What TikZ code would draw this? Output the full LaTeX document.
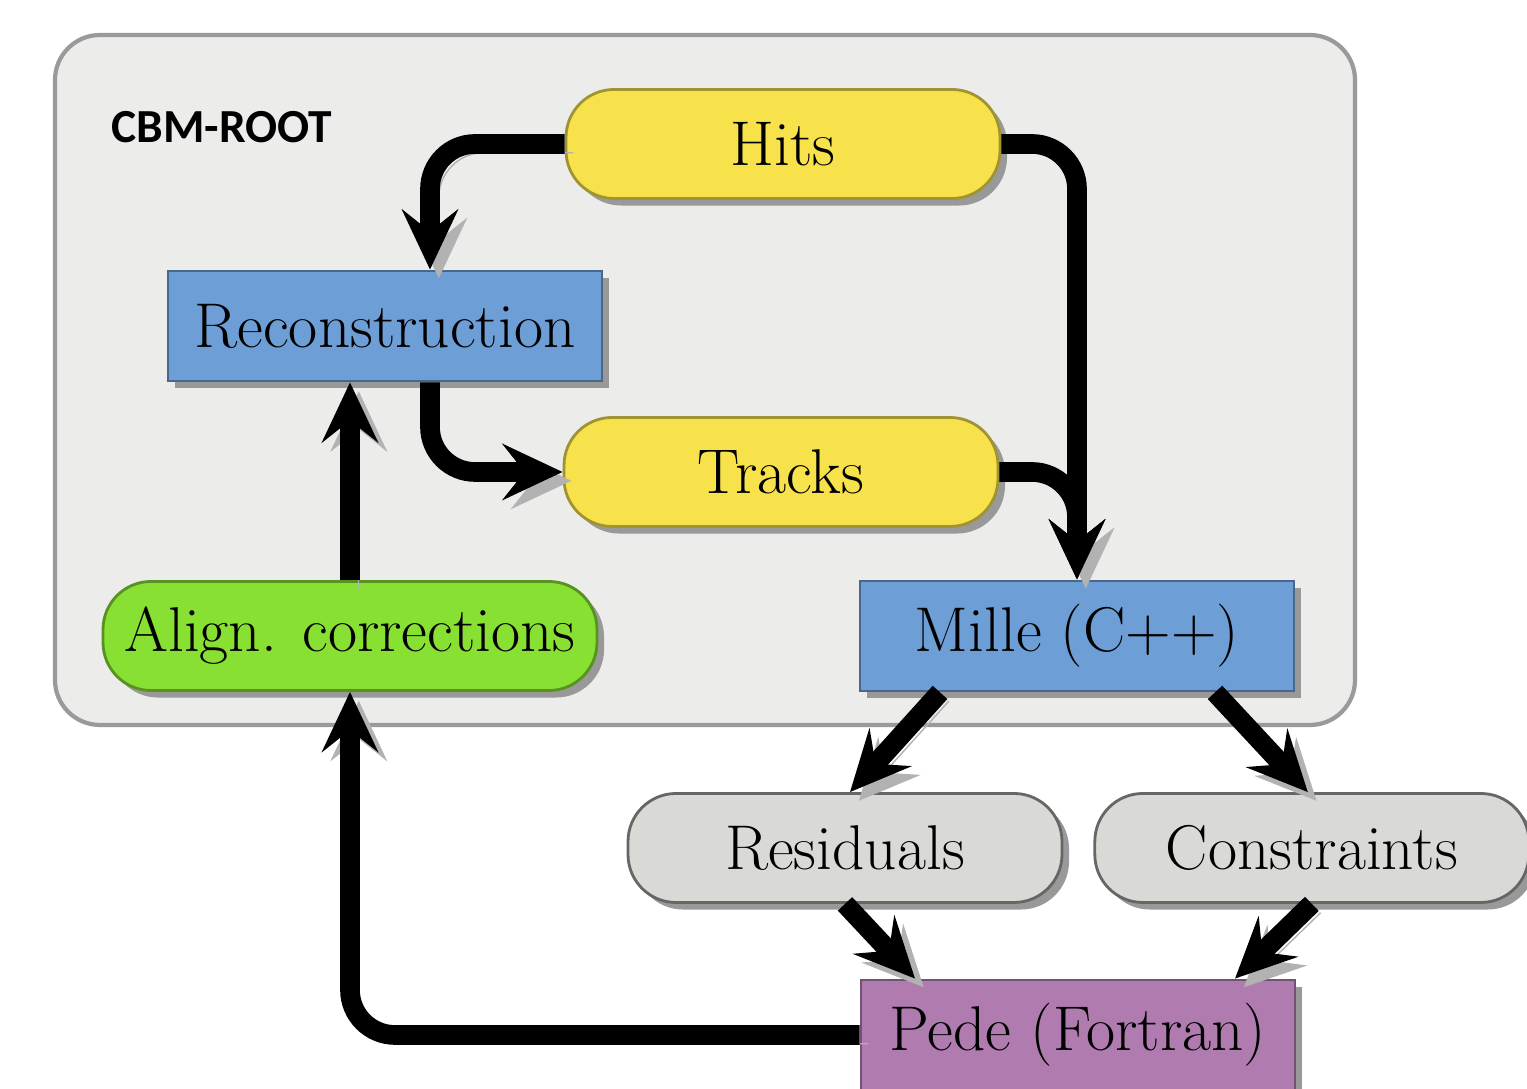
\documentclass[tikz,border=0pt]{standalone}
\usepackage{fontspec}
\newfontfamily\cbmfont{Carlito}
\usetikzlibrary{arrows.meta, positioning, shadows}
\definecolor{hityellow}{HTML}{F8E24C}
\definecolor{recoblue}{HTML}{6D9ED6}
\definecolor{aligngreen}{HTML}{88E033}
\definecolor{pillgray}{HTML}{D9DAD5}
\definecolor{pedeviolet}{HTML}{B07CB0}
\definecolor{rootgray}{HTML}{ECECEA}
\definecolor{rootedge}{HTML}{9A9A9A}
\tikzset{
  shade/.style={drop shadow={shadow xshift=2pt, shadow yshift=-2pt, fill=black!40, opacity=1}},
  pill/.style={draw=#1!65!black, fill=#1, rounded corners=0.48cm, shade, line width=0.8pt,
    minimum width=4.34cm, minimum height=1.09cm, inner sep=0pt, font=\fontsize{18}{21}\selectfont},
  box/.style={draw=#1!65!black, fill=#1, shade, line width=0.8pt,
    minimum width=4.34cm, minimum height=1.1cm, inner sep=0pt, font=\fontsize{18}{21}\selectfont},
  arr/.style={-{Stealth[length=6mm, width=5.6mm, inset=2.2mm]}, line width=5.6pt, rounded corners=0.45cm,
    preaction={draw=black!30, transform canvas={xshift=2.5pt, yshift=-2.5pt}}},
}

\begin{document}
\begin{tikzpicture}[node distance=0.3cm]
    \useasboundingbox (0,0) rectangle (15.27,10.89);
    \node[draw=rootedge, fill=rootgray, line width=1.2pt, rounded corners=0.45cm,
      minimum width=13cm, minimum height=6.9cm] (root) at (7.05,7.09) {};
    \node[font=\cbmfont\bfseries\fontsize{13.5}{16}\selectfont] (cbm) at (2.22,9.62) {CBM-ROOT};
    \node[pill=hityellow] (hits) at (7.83,9.45) {Hits};
    \node[box=recoblue] (reco) at (3.85,7.63) {Reconstruction};
    \node[pill=hityellow] (tracks) at (7.81,6.17) {Tracks};
    \node[pill=aligngreen, minimum width=4.94cm] (align) at (3.50,4.53) {Align. corrections};
    \node[box=recoblue] (mille) at (10.77,4.53) {Mille (C++)};
    \node[pill=pillgray, draw=black!60] (resid) at (8.45,2.41) {Residuals};
    \node[pill=pillgray, draw=black!60, right=of resid] (constr) {Constraints};
    \node[box=pedeviolet] (pede) at (10.78,0.54) {Pede (Fortran)};
    \draw[arr] (hits.west) -| ([xshift=0.45cm]reco.north);
    \draw[arr] (hits.east) -| (mille.north);
    \draw[arr] ([xshift=0.45cm]reco.south) |- (tracks.west);
    \draw[arr] (tracks.east) -| (mille.north);
    \draw[arr] (align.north) -- (align.north |- reco.south);
    \draw[arr] ([xshift=-1.37cm]mille.south) -- ([xshift=0.05cm]resid.north);
    \draw[arr] ([xshift=1.38cm]mille.south) -- ([xshift=-0.04cm]constr.north);
    \draw[arr] (resid.south) -- ([xshift=-1.63cm]pede.north);
    \draw[arr] (constr.south) -- ([xshift=1.57cm]pede.north);
    \draw[arr] (pede.west) -| (align.south);
\end{tikzpicture}
\end{document}
